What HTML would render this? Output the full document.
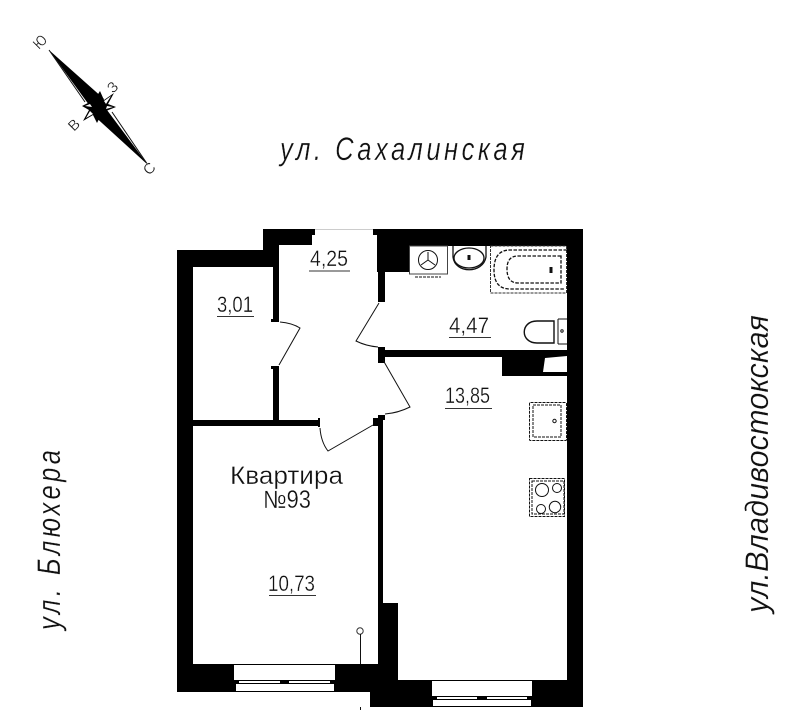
<!DOCTYPE html>
<html><head><meta charset="utf-8"><style>html,body{margin:0;padding:0;background:#fff}svg{display:block}text{font-family:"Liberation Sans",sans-serif;fill:#111;stroke:#fff;stroke-width:.3}</style></head>
<body>
<svg width="806" height="710" viewBox="0 0 806 710" xmlns="http://www.w3.org/2000/svg">
<rect width="806" height="710" fill="#fff"/>
<!-- walls -->
<g fill="#000">
<rect x="177" y="250" width="16" height="442"/>
<rect x="177" y="250" width="102" height="17"/>
<rect x="263" y="229" width="49" height="16"/>
<rect x="263" y="229" width="16" height="38"/>
<rect x="273" y="245" width="6" height="76"/>
<rect x="271" y="319" width="8" height="3"/>
<rect x="271" y="366" width="8" height="3"/>
<rect x="273" y="367" width="6" height="54"/>
<rect x="193" y="420" width="125" height="6"/>
<rect x="318" y="418" width="2" height="9"/>
<rect x="312" y="229" width="3" height="6"/>
<rect x="373" y="229" width="4" height="6"/>
<rect x="377" y="229" width="206" height="17"/>
<rect x="377" y="246" width="32" height="26"/>
<rect x="378" y="246" width="7" height="56"/>
<rect x="378" y="347" width="7" height="16"/>
<rect x="385" y="350" width="182" height="7"/>
<rect x="502" y="357" width="65" height="19"/>
<rect x="567" y="229" width="16" height="478"/>
<rect x="373" y="418" width="5" height="8"/>
<rect x="378" y="415" width="7" height="5"/>
<rect x="378" y="418" width="5" height="262"/>
<rect x="383" y="603" width="15" height="77"/>
<rect x="177" y="664" width="201" height="28"/>
<rect x="370" y="680" width="213" height="27"/>
<rect x="378" y="664" width="20" height="20"/>
</g>
<path d="M315 229.500H373" stroke="#ccc" stroke-width="1"/>
<!-- windows -->
<g fill="#fff">
<rect x="234" y="665" width="101" height="15"/>
<rect x="239" y="681" width="41" height="2"/>
<rect x="289" y="681" width="41" height="2"/>
<rect x="236" y="684" width="98" height="7"/>
<rect x="432" y="681" width="100" height="15"/>
<rect x="437" y="697" width="40" height="2"/>
<rect x="487" y="697" width="40" height="2"/>
<rect x="433" y="700" width="98" height="6"/>
<polygon points="545,358 567,356 567,372 543,372"/>
</g>
<!-- doors -->
<g fill="none" stroke="#111" stroke-width="1">
<path d="M280 322 Q292 323 300 328 L279 365"/>
<path d="M379 303 L356 341 Q366 346 378 347"/>
<path d="M383 360 L410 407 Q398 413 385 414"/>
<path d="M320 428 Q321 442 328 451 L373 425"/>
</g>
<!-- socket -->
<circle cx="360" cy="631" r="3.200" fill="#fff" stroke="#333" stroke-width="1"/>
<path d="M360.500 634V664M360.500 707V710" stroke="#111" stroke-width="1"/>
<!-- fixtures -->
<g fill="none" stroke="#111" stroke-width="1">
<rect x="409.500" y="246" width="38" height="28" stroke="#444"/>
<path d="M415 277H441" stroke-dasharray="3 1"/>
<circle cx="428" cy="260" r="9.500"/>
<path d="M428 260V252M428 260L421 265M428 260L435 265"/>
<path d="M453 246V257C455 274 483 274 486 257V246" stroke-width="1.300"/>
<ellipse cx="469" cy="258" rx="15" ry="10" stroke-width="1.300"/>
<rect x="490.500" y="246" width="76" height="47" stroke-dasharray="3 1" stroke="#333"/>
<path d="M567 250H510Q494 250 494 270Q494 289 510 289H565" stroke-dasharray="3.500 1.500" stroke-width="1.300"/>
<path d="M561 256H518Q507 256 507 269Q507 283 518 283H561Z" stroke-dasharray="3.500 1.500" stroke-width="1.300"/>
<path d="M469 255v5M551 267v6" stroke-width="3"/>
<path d="M554 321H537C520 321 520 343 537 343H554Z" stroke-width="1.400"/>
<path d="M558 319H567M558 344H567M558 319V344"/>
<circle cx="562" cy="331" r="1.200"/>
<rect x="529.500" y="402.500" width="37" height="38" rx="1" stroke-dasharray="3 1"/>
<rect x="533" y="405" width="28" height="32" stroke-dasharray="3 1"/>
<circle cx="554.500" cy="421" r="1.700"/>
<rect x="529.500" y="478.500" width="35" height="38" stroke-dasharray="3 1"/>
<rect x="532" y="481" width="32" height="33" stroke-dasharray="3 1"/>
<circle cx="542" cy="490" r="6.500"/>
<circle cx="557" cy="488" r="4.500"/>
<circle cx="541" cy="509" r="4.500"/>
<circle cx="555" cy="507" r="5.700"/>
</g>
<!-- underlines -->
<path d="M309 271H350M217 316.500H254M449 337.500H491M445 408.500H492M269 595.500H316" stroke="#333" stroke-width="1"/>
<!-- room labels -->
<g font-size="22">
<text x="310" y="266" textLength="38" lengthAdjust="spacingAndGlyphs">4,25</text>
<text x="217" y="312" textLength="36" lengthAdjust="spacingAndGlyphs">3,01</text>
<text x="449" y="333" textLength="40" lengthAdjust="spacingAndGlyphs">4,47</text>
<text x="445" y="403" textLength="45" lengthAdjust="spacingAndGlyphs">13,85</text>
<text x="268" y="591" textLength="47" lengthAdjust="spacingAndGlyphs">10,73</text>
<text x="230" y="484" font-size="25" textLength="113" lengthAdjust="spacingAndGlyphs">Квартира</text>
<text x="263" y="508" font-size="25" textLength="48" lengthAdjust="spacingAndGlyphs">№93</text>
</g>
<!-- streets -->
<g font-style="italic" font-size="32">
<text transform="translate(280,160) scale(.8,1)" textLength="306" lengthAdjust="spacing">ул. Сахалинская</text>
<text transform="translate(60,630) rotate(-90) scale(.8,1)" textLength="225" lengthAdjust="spacing">ул. Блюхера</text>
<text transform="translate(768,613) rotate(-90)" textLength="298" lengthAdjust="spacingAndGlyphs">ул.Владивостокская</text>
</g>
<!-- compass -->
<g>
<polygon points="49,50 104,99 92,109" fill="#000"/>
<polygon points="148,165 91,113 104,106" fill="#000"/>
<path d="M49 50L85 102M148 165L112 112" stroke="#111" stroke-width="1" fill="none"/>
<polygon points="100,91 104,100 114,93 108,104 116,107 106,111 109,118 101,115 97,123 93,115 83,121 89,110 82,106 90,102 86,94 95,99" fill="#000"/>
<polygon points="104,101 111,96 106,104" fill="#fff"/>
<polygon points="90,104 85,106 92,107" fill="#fff"/>
<polygon points="90,111 86,118 93,114" fill="#fff"/>
<polygon points="107,106 113,107 106,109" fill="#fff"/>
<g font-size="15" style="stroke-width:.2">
<text transform="translate(39,50) rotate(-45)" textLength="13" lengthAdjust="spacingAndGlyphs">Ю</text>
<text transform="translate(113,94) rotate(-45)">З</text>
<text transform="translate(74,132) rotate(-45)">В</text>
<text transform="translate(149,176) rotate(-45)">С</text>
</g>
</g>
</svg>
</body></html>
